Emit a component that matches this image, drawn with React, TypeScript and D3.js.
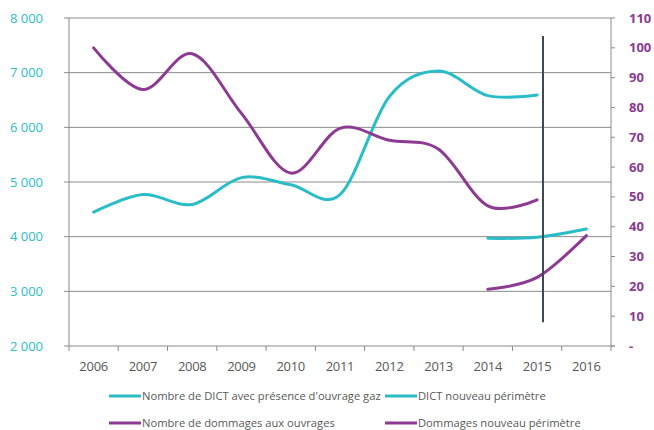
import React from "react";
import * as d3 from "d3";

const years = ["2006","2007","2008","2009","2010","2011","2012","2013","2014","2015","2016"];
const dictGaz: (number|null)[] = [4450, 4770, 4590, 5080, 4950, 4770, 6560, 7030, 6580, 6590, null];
const dictNouveau: (number|null)[] = [null, null, null, null, null, null, null, null, 3970, 3990, 4140];
const dommages: (number|null)[] = [100, 86, 98, 78, 58, 73, 69, 66, 47, 49, null];
const dommagesNouveau: (number|null)[] = [null, null, null, null, null, null, null, null, 19, 23, 37];
const leftTicks = [2000, 3000, 4000, 5000, 6000, 7000, 8000];
const rightTicks = [0, 10, 20, 30, 40, 50, 60, 70, 80, 90, 100, 110];
const legendItems = [
  { label: "Nombre de DICT avec présence d'ouvrage gaz", color: "#2bbdc7" },
  { label: "DICT nouveau périmètre", color: "#2bbdc7" },
  { label: "Nombre de dommages aux ouvrages", color: "#8c3a92" },
  { label: "Dommages nouveau périmètre", color: "#8c3a92" },
];
const markerYear = "2015";
const markerRange = [8, 104];

const W = 654, H = 430;
const M = { left: 69, right: 611, top: 18, bottom: 346 };
const CYAN = "#2bbdc7";
const PURPLE = "#8c3a92";
const GRID = "#8a8a8a";
const FONT = "'Open Sans', sans-serif";

export default function App() {
  const x = d3.scaleBand().domain(years).range([M.left, M.right]);
  const cx = (y: string) => (x(y) as number) + x.bandwidth() / 2;
  const yL = d3.scaleLinear().domain([2000, 8000]).range([M.bottom, M.top]);
  const yR = d3.scaleLinear().domain([0, 110]).range([M.bottom, M.top]);
  const curve = d3.curveCardinal.tension(0);

  const mk = (vals: (number|null)[], ys: d3.ScaleLinear<number, number>) => {
    const pts = years.map((yr, i) => ({ yr, v: vals[i] })).filter((p) => p.v != null);
    return d3.line<{ yr: string; v: number | null }>()
      .x((p) => cx(p.yr))
      .y((p) => ys(p.v as number))
      .curve(curve)(pts) as string;
  };

  const boundaries = d3.range(years.length + 1).map((i) => M.left + i * x.step());
  const markerX = cx(markerYear) + x.step() * 0.12;

  const legendCols = [109, 385];
  const legendRows = [396, 423];

  return (
    <svg width={W} height={H} style={{ position: "absolute", left: 0, top: 0, background: "#fff" }} fontFamily={FONT}>
      {leftTicks.slice(1).map((t) => (
        <line key={t} x1={M.left - 5} x2={M.right} y1={yL(t)} y2={yL(t)} stroke={GRID} strokeWidth={1} />
      ))}
      <line x1={M.left} x2={M.left} y1={M.top} y2={M.bottom} stroke={GRID} strokeWidth={1} />
      <line x1={M.right} x2={M.right} y1={M.top} y2={M.bottom} stroke={GRID} strokeWidth={1} />
      <line x1={M.left - 5} x2={M.right + 4} y1={M.bottom} y2={M.bottom} stroke={GRID} strokeWidth={1} />
      {boundaries.map((b, i) => (
        <line key={i} x1={b} x2={b} y1={M.bottom} y2={M.bottom + 5} stroke={GRID} strokeWidth={1} />
      ))}
      {rightTicks.map((t) => (
        <line key={t} x1={M.right} x2={M.right + 4} y1={yR(t)} y2={yR(t)} stroke={GRID} strokeWidth={1} />
      ))}
      {leftTicks.map((t) => (
        <text key={t} x={43} y={yL(t)} dy="0.35em" textAnchor="end" fill={CYAN} fontSize={13}>
          {d3.format(",")(t).replace(/,/g, " ")}
        </text>
      ))}
      {rightTicks.map((t) => (
        <text key={t} x={629} y={yR(t)} dy="0.35em" textAnchor="start" fill={PURPLE} fontSize={13} fontWeight="bold">
          {t === 0 ? "-" : String(t)}
        </text>
      ))}
      {years.map((yr) => (
        <text key={yr} x={cx(yr)} y={366} dy="0.35em" textAnchor="middle" fill="#595959" fontSize={13} letterSpacing={-0.3}>
          {yr}
        </text>
      ))}
      <path d={mk(dictGaz, yL)} fill="none" stroke={CYAN} strokeWidth={3} strokeLinecap="round" />
      <path d={mk(dictNouveau, yL)} fill="none" stroke={CYAN} strokeWidth={3} strokeLinecap="round" />
      <path d={mk(dommages, yR)} fill="none" stroke={PURPLE} strokeWidth={3} strokeLinecap="round" />
      <path d={mk(dommagesNouveau, yR)} fill="none" stroke={PURPLE} strokeWidth={3} strokeLinecap="round" />
      <line x1={markerX} x2={markerX} y1={yR(markerRange[1])} y2={yR(markerRange[0])} stroke="#3b4a57" strokeWidth={2} />
      {legendItems.map((it, i) => {
        const lx = legendCols[i % 2];
        const ly = legendRows[Math.floor(i / 2)];
        return (
          <g key={i}>
            <line x1={lx} x2={lx + 32} y1={ly} y2={ly} stroke={it.color} strokeWidth={3} />
            <text x={lx + 33} y={ly} dy="0.35em" fill="#595959" fontSize={11.2}>{it.label}</text>
          </g>
        );
      })}
    </svg>
  );
}
